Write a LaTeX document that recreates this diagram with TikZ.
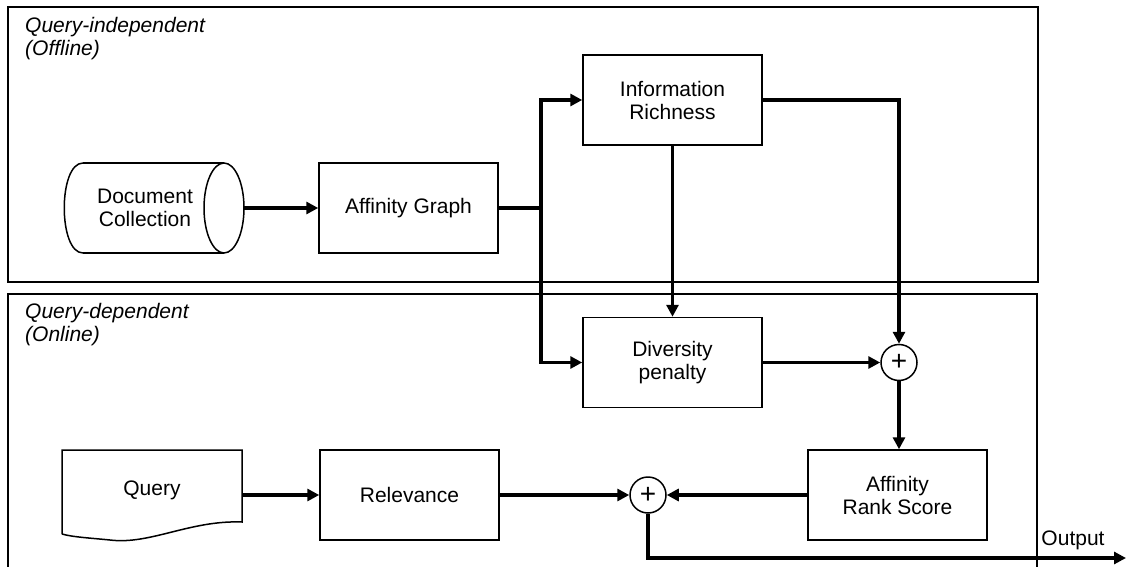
\documentclass[tikz,border=0pt]{standalone}
\usepackage{fontspec}
\setmainfont{Liberation Sans}
\usetikzlibrary{arrows.meta,calc}
\begin{document}
\begin{tikzpicture}[x=1pt,y=-1pt,
  every node/.style={font=\fontsize{21}{23}\selectfont},
  blockbox/.style={draw,line width=1.5pt,minimum width=179pt,minimum height=90pt,align=center,inner sep=0pt},
  plainnode/.style={align=center,inner sep=0pt},
  sumnode/.style={draw,circle,line width=1.5pt,minimum size=36pt,inner sep=0pt,font=\fontsize{28}{28}\selectfont},
  frame/.style={line width=1.7pt},
  conn/.style={line width=3.2pt},
  arr/.style={conn,-{Triangle[length=12pt,width=12pt]}},
  titletext/.style={font=\fontsize{21}{23}\selectfont\itshape,align=left,anchor=north west,inner sep=0pt}
]
\useasboundingbox (0,0) rectangle (1127,567);

% frames
\draw[frame] (8,7) rectangle (1038,282);
\draw[frame] (8,567) -- (8,294) -- (1037,294) -- (1037,567);
\node[titletext] (t1) at (25,17) {Query-independent\\(Offline)};
\node[titletext] (t2) at (25,303) {Query-dependent\\(Online)};

% document collection (cylinder)
\draw[line width=1.5pt] (83,163) -- (224,163) (83,253) -- (224,253);
\draw[line width=1.5pt] (83,163) .. controls (58,163) and (58,253) .. (83,253);
\draw[line width=1.5pt] (224,208) ellipse[x radius=20,y radius=45];
\node[plainnode] (doc) at (145,208) {Document\\Collection};
\coordinate (docE) at (244,208);

% query (document shape)
\draw[line width=1.5pt] (62,534) -- (62,450) -- (242,450) -- (242,522)
  .. controls (190,520) and (150,545) .. (110,540)
  .. controls (90,538) and (72,537) .. (62,534);
\node[plainnode] (query) at (152,490) {Query};
\coordinate (queryE) at (242,495);

% blocks
\node[blockbox] (aff) at (408.5,208) {Affinity Graph};
\node[blockbox] (ir) at (672.5,100) {Information\\Richness};
\node[blockbox] (div) at (672.5,362.5) {Diversity\\penalty};
\node[blockbox] (rel) at (409.5,495) {Relevance};
\node[blockbox] (ars) at (897.5,495) {Affinity\\Rank Score};

% sums
\node[sumnode] (s1) at (899,362.5) {+};
\node[sumnode] (s2) at (648,495) {+};

% output
\node[plainnode] (outlbl) at (1073,540) {Output};
\coordinate (bend) at (648,558);
\coordinate (outE) at (1126,558);

% junction
\coordinate (J) at (541,208);

% connectors
\draw[arr] (docE) -- (aff.west);
\draw[conn] (aff.east) -- (J);
\draw[arr] (J) |- (ir.west);
\draw[arr] (J) |- (div.west);
\draw[arr] (ir.south) -- (div.north);
\draw[arr] (ir.east) -| (s1.north);
\draw[arr] (div.east) -- (s1.west);
\draw[arr] (s1.south) -- (s1.south |- ars.north);
\draw[arr] (ars.west) -- (s2.east);
\draw[arr] (rel.east) -- (s2.west);
\draw[arr] (queryE) -- (queryE -| rel.west);
\draw[arr] (s2.south) -- (bend) -- (outE);
\end{tikzpicture}
\end{document}
